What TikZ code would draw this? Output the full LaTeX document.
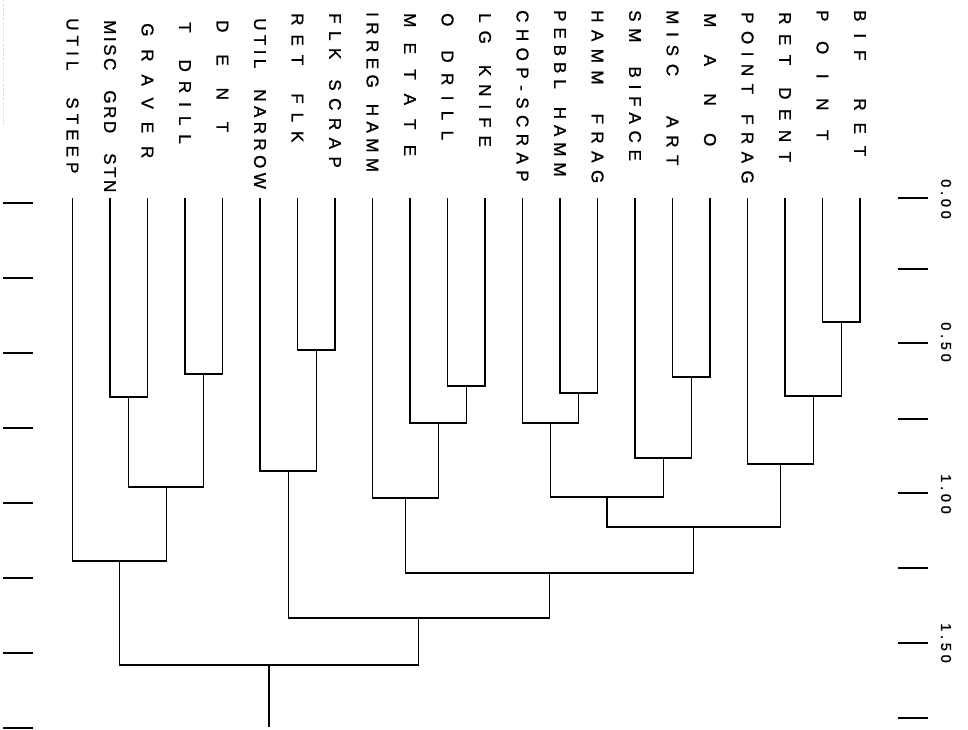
\documentclass[tikz,border=0pt]{standalone}
\usepackage{fontspec}
\newfontfamily\plotfont{Liberation Sans}[FakeBold=1.2]
\usetikzlibrary{calc}

\newcommand{\wg}[1]{\hspace{#1pt}}
\newcommand{\dmerge}[4]{%
  \coordinate (#1) at ($(#2)!.5!(#3)$);
  \coordinate (#1) at (#1 |- 0,#4);
  \draw[link] (#2) |- (#1) -| (#3);
}

\begin{document}
\begin{tikzpicture}[
  x=1pt, y=-1pt,
  link/.style={line width=1.25pt},
  tick/.style={line width=1.25pt},
  leaflbl/.style={rotate=-90, anchor=west, inner sep=0pt, font=\plotfont\fontsize{17}{17}\selectfont\addfontfeature{LetterSpace=#1}},
  scalelbl/.style={rotate=-90, inner sep=0pt, font=\plotfont\fontsize{14.5}{14.5}\selectfont\addfontfeature{LetterSpace=26}}
]
\fill[white] (0,0) rectangle (968,729);
\useasboundingbox (0,0) rectangle (968,729);
\draw[gray!40, line width=0.5pt, dotted] (3,0) -- (3,125);

\foreach \i/\txt/\ls/\ty in {
  0/UTIL\wg{27}STEEP/30/18, 1/MISC\wg{20}GRD\wg{20}STN/15/20, 2/GRAVER/76/23,
  3/T\wg{27}DRILL/53/22, 4/DENT/129/20, 5/UTIL\wg{21}NARROW/26/18,
  6/RET\wg{28}FLK/53/13, 7/FLK\wg{20}SCRAP/44/13, 8/IRREG\wg{16}HAMM/32/12,
  9/METATE/90/13, 10/O\wg{24}DRILL/61/13, 11/LG\wg{21}KNIFE/47/13,
  12/CHOP-SCRAP/38/10, 13/PEBBL\wg{18}HAMM/35/10, 14/HAMM\wg{29}FRAG/44/10,
  15/SM\wg{24}BIFACE/40/10, 16/MISC\wg{40}ART/46/10, 17/MANO/161/13,
  18/POINT\wg{20}FRAG/44/12, 19/RET\wg{22}DENT/56/12, 20/POINT/115/10,
  21/BIF\wg{38}RET/70/10}{
  \coordinate (l\i) at ({72.5+37.5*\i},198);
  \node[leaflbl=\ls] (n\i) at (l\i |- 0,\ty) {\txt};
}

\dmerge{m1}{l20}{l21}{322}
\dmerge{m2}{l19}{m1}{396}
\dmerge{m3}{l18}{m2}{464}
\dmerge{m4}{l16}{l17}{377}
\dmerge{m5}{l15}{m4}{458}
\dmerge{m6}{l13}{l14}{393}
\dmerge{m7}{l12}{m6}{423}
\dmerge{m8}{m7}{m5}{497}
\dmerge{m9}{m8}{m3}{527}
\dmerge{m10}{l10}{l11}{386}
\dmerge{m11}{l9}{m10}{423}
\dmerge{m12}{l8}{m11}{498}
\dmerge{m13}{m12}{m9}{573}
\dmerge{m14}{l6}{l7}{350}
\dmerge{m15}{l5}{m14}{471}
\dmerge{m16}{m15}{m13}{618}
\dmerge{m17}{l3}{l4}{374}
\dmerge{m18}{l1}{l2}{397}
\dmerge{m19}{m18}{m17}{487}
\dmerge{m20}{l0}{m19}{561}
\dmerge{m21}{m20}{m16}{665}
\coordinate (root) at (m21 |- 0,727);
\draw[link] (m21) -- (root);

\foreach \y in {198,269,343,419,493,568,643,718}
  \draw[tick] (898,\y) -- (928,\y);
\foreach \y in {203,278,353,428,503,578,653,728}
  \draw[tick] (3,\y) -- (33,\y);
\foreach \v/\y [count=\k] in {0.00/199, 0.50/342, 1.00/494, 1.50/643}
  \node[scalelbl] (s\k) at (946,\y) {\v};
\end{tikzpicture}
\end{document}
